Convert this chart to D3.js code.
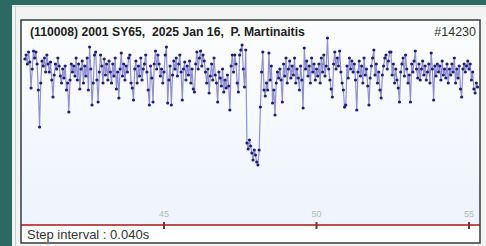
<!DOCTYPE html>
<html>
<head>
<meta charset="utf-8">
<script src="https://cdn.jsdelivr.net/npm/d3@7"></script>
<style>
  html, body { margin: 0; padding: 0; background: #f3f5f4; }
  #chart { width: 486px; height: 246px; overflow: hidden; }
  text { font-family: "Liberation Sans", Arial, sans-serif; white-space: pre; }
</style>
</head>
<body>
<div id="chart"></div>
<script>
// Chart text
const titleText = "(110008) 2001 SY65,  2025 Jan 16,  P. Martinaitis";
const eventId = "#14230";
const stepLabel = "Step interval : 0.040s";
const tickValues = [45, 50, 55];

// Light curve: first sample time (s), step (s), brightness per sample (baseline ~100)
const startTime = 40.44;
const stepTime = 0.04;
const brightness = [
  113, 117, 108, 120, 110,  84, 103, 121, 114, 120,
  108,  82,  45,  89, 111, 106, 114, 100, 117, 108,
  100, 110,  92,  75,  97, 108, 103, 114, 106,  96,
   89, 103,  94, 106,  82,  89,  60,  92, 108, 100,
  106,  96, 114,  92, 108,  83, 103, 111,  89, 106,
   96, 114,  82, 125, 103,  67,  89, 117, 120,  92,
   70, 100, 117, 106,  89, 113,  97, 108,  92, 111,
  100,  89, 108,  96, 114,  83, 100,  74, 103, 119,
   96, 108,  92, 106, 100, 114, 117,  89,  84,  72,
  103, 111,  89, 106,  96, 114,  92, 103, 108, 117,
  100,  82,  67, 106,  94,  70, 108, 121, 103, 117,
  108,  96, 103,  89, 100, 117, 125,  69,  92, 106,
   67,  97, 111, 103, 114,  96, 108, 117, 100,  72,
  103, 110,  92, 106,  97, 111,  89, 103,  83,  80,
  108, 120, 103, 114, 121, 106, 117, 111, 100,  89,
  103,  79,  96, 108,  92, 114,  97,  89,  70, 100,
   94,  86, 103,  80,  92,  84,  97,  86,  62, 106,
  117, 100, 117, 108,  89,  80, 117, 122, 127, 103,
   85, 122,  29,  23,  32,  26,  19,  12,  22,  17,
   10,   7,  22,  65, 100, 120,  82,  76,  89,  82,
  119,  92, 106,  69,  82,  57,  89, 100,  94, 103,
   92,  70, 108,  96, 114,  89, 103, 111,  94, 106,
   97, 114,  89, 103,  94,  82, 106,  92,  64, 124,
  103, 111,  96, 106,  89, 114, 100, 108,  92, 103,
   96, 108,  89, 114, 100, 117,  96, 106, 134, 103,
   92,  83,  75, 108, 120, 103, 114, 106, 121, 100,
   89,  82,  65,  67, 106,  94, 114, 103, 111, 100,
  108,  92,  62, 100, 111,  96, 106,  89, 114,  97,
  103,  86,  67,  94, 106, 114, 122,  97, 108,  89,
  100,  82,  74,  97, 106, 114, 117, 103, 111, 120,
  120,  97, 108,  89, 103,  92,  84,  70, 100, 108,
  114,  96, 117, 103,  89,  97,  70, 108, 100, 111,
  121, 103,  94, 108,  92, 103, 111,  97, 106,  92,
  100, 108,  89, 119, 103,  72, 106,  96, 108, 100,
  106,  92, 111,  97, 103,  94, 108,  89, 103,  97,
  108, 100, 114,  89, 103,  94, 106,  83,  75, 103,
  108, 100, 106, 111, 103, 108,  92, 100,  83,  79,
   89,  85
];

const data = brightness.map((b, i) => ({ t: startTime + i * stepTime, b: b }));

// Setup
const W = 486, H = 246;
const panel = { left: 21, top: 20, right: 480, bottom: 243 };
const axisY = 225;

const svg = d3.select("#chart")
  .append("svg")
    .attr("width", W)
    .attr("height", H);

const defs = svg.append("defs");
const grad = defs.append("linearGradient")
    .attr("id", "bg")
    .attr("x1", 0).attr("y1", 0).attr("x2", 0).attr("y2", 1);
grad.append("stop").attr("offset", "0%").attr("stop-color", "#fcfdfe");
grad.append("stop").attr("offset", "100%").attr("stop-color", "#edf3fc");

// outer frame (page background, teal edges)
svg.append("rect").attr("width", W).attr("height", H).attr("fill", "#f2f4f3");
svg.append("rect").attr("x", 0).attr("y", 0).attr("width", W).attr("height", 5).attr("fill", "#2b6a62");
svg.append("rect").attr("x", 0).attr("y", 0).attr("width", 12).attr("height", H).attr("fill", "#2b6a62");
svg.append("line").attr("x1", 12).attr("x2", W).attr("y1", 6.5).attr("y2", 6.5).attr("stroke", "#d5dbd8");
svg.append("line").attr("x1", 15.5).attr("x2", 15.5).attr("y1", 6).attr("y2", H).attr("stroke", "#c9cfcc");

// panel
svg.append("rect")
    .attr("x", panel.left).attr("y", panel.top)
    .attr("width", panel.right - panel.left).attr("height", panel.bottom - panel.top)
    .attr("fill", "url(#bg)");
svg.append("rect")
    .attr("x", panel.left).attr("y", axisY)
    .attr("width", panel.right - panel.left).attr("height", panel.bottom - axisY)
    .attr("fill", "#ffffff");

// scales
const x = d3.scaleLinear().domain([45, 55]).range([164, 469]);
const y = d3.scaleLinear().domain([0, 100]).range([172, 72]);

// light curve
const g = svg.append("g");
g.append("path")
    .datum(data)
    .attr("fill", "none")
    .attr("stroke", "#9090d0")
    .attr("stroke-width", 1.2)
    .attr("d", d3.line().x(d => x(d.t)).y(d => y(d.b)));
g.selectAll("circle")
  .data(data)
  .enter().append("circle")
    .attr("cx", d => x(d.t))
    .attr("cy", d => y(d.b))
    .attr("r", 1.6)
    .attr("fill", "#1f1f7c");

// time axis (red baseline)
svg.append("line")
    .attr("x1", panel.left).attr("x2", panel.right)
    .attr("y1", axisY).attr("y2", axisY)
    .attr("stroke", "#bf4f4f").attr("stroke-width", 2);
const ticks = svg.append("g").selectAll("g.tick")
  .data(tickValues)
  .enter().append("g")
    .attr("class", "tick")
    .attr("transform", d => `translate(${x(d)},0)`);
ticks.append("line")
    .attr("y1", axisY - 3).attr("y2", axisY + 4)
    .attr("stroke", "#8a2a32").attr("stroke-width", 2);
ticks.append("text")
    .attr("y", axisY - 8)
    .attr("text-anchor", "middle")
    .attr("font-size", 9)
    .attr("fill", "#b8b8b8")
    .text(d => d);

// panel border
svg.append("rect")
    .attr("x", panel.left).attr("y", panel.top)
    .attr("width", panel.right - panel.left).attr("height", panel.bottom - panel.top)
    .attr("fill", "none")
    .attr("stroke", "#3a3a3a").attr("stroke-width", 1.5);

// texts
svg.append("text")
    .attr("x", 30).attr("y", 36)
    .attr("font-size", 12.2).attr("font-weight", "bold").attr("fill", "#222")
    .text(titleText);
svg.append("text")
    .attr("x", 476).attr("y", 36)
    .attr("text-anchor", "end")
    .attr("font-size", 12.5).attr("fill", "#333")
    .text(eventId);
svg.append("text")
    .attr("x", 27).attr("y", 239)
    .attr("font-size", 13).attr("fill", "#333")
    .text(stepLabel);
</script>
</body>
</html>
